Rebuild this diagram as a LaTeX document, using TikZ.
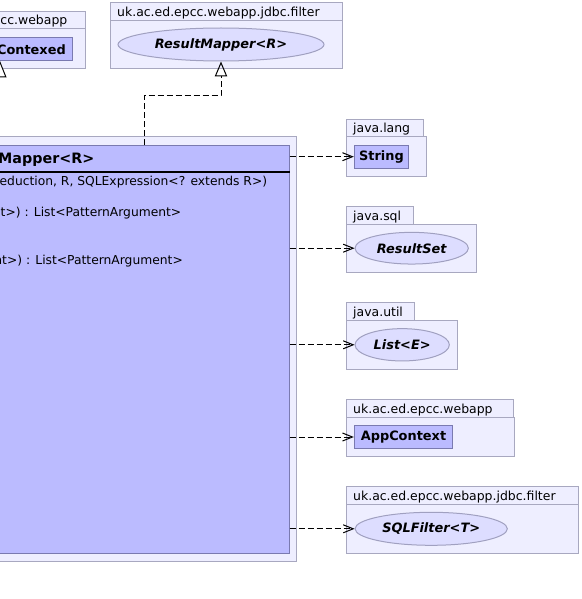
\documentclass[tikz,border=0pt]{standalone}
\usepackage{fontspec}
\setmainfont{DejaVu Sans}[ItalicFont={DejaVu Sans Oblique},BoldItalicFont={DejaVu Sans Bold Oblique}]
\usetikzlibrary{shapes.geometric,arrows.meta}
\definecolor{pkgfill}{HTML}{EEEEFF}
\definecolor{pkgline}{HTML}{A8A8C0}
\definecolor{clsfill}{HTML}{BBBBFF}
\definecolor{clsline}{HTML}{7A7AB0}
\definecolor{ifill}{HTML}{DDDDFF}
\definecolor{iline}{HTML}{A0A0C0}
\begin{document}
\begin{tikzpicture}[x=1pt,y=-1pt,
  pkg/.style={draw=pkgline,fill=pkgfill,line width=1pt},
  pkgtext/.style={inner sep=0,anchor=base west,font=\fontsize{12.45}{14}\selectfont},
  cls/.style={draw=clsline,fill=clsfill,line width=1pt,inner sep=0,font=\fontsize{12.9}{15}\selectfont\bfseries},
  iface/.style={ellipse,draw=iline,fill=ifill,line width=1pt,inner sep=0,font=\fontsize{12.9}{15}\selectfont\bfseries\itshape},
  member/.style={inner sep=0,anchor=base east,font=\fontsize{12.3}{14}\selectfont},
  dep/.style={dash pattern=on 6pt off 3pt,line width=1pt,-{Straight Barb[length=10pt,width=8pt]}},
  real/.style={dash pattern=on 6pt off 3pt,line width=1pt,-{Triangle[open,length=15pt,width=12.4pt]}},
]
\clip (0,0) rectangle (581,599);
\fill[white] (0,0) rectangle (581,599);

% package cc.webapp
\path[pkg] (-10,11.7) rectangle (85.7,28.5);
\path[pkg] (-10,28.5) rectangle (85.7,69);
\node[pkgtext] (p1l) at (0.3,24.5) {cc.webapp};
\node[cls, minimum width=82.7pt, minimum height=23.3pt] (contexed) at (31.35,49.35) {};
\node[inner sep=0, anchor=base east, font=\fontsize{12.9}{15}\selectfont\bfseries] (contexedtext) at (66,54.2) {Contexed};
\draw[line width=1pt, fill=white] (contexed.south -| -0.3,0) -- ++(6.2,15.5) -- ++(-12.4,0) -- cycle;

% package uk.ac.ed.epcc.webapp.jdbc.filter (top)
\path[pkg] (110,2.7) rectangle (342.7,20.7);
\path[pkg] (110,20.7) rectangle (342.7,69);
\node[pkgtext] (p2l) at (117,16.7) {uk.ac.ed.epcc.webapp.jdbc.filter};
\node[iface, minimum width=206pt, minimum height=33pt] (rm) at (221,44.5) {ResultMapper<R>};

% main package and class
\path[pkg] (-10,136.7) rectangle (296.7,561);
\node[cls, minimum width=298.7pt, minimum height=408.3pt, anchor=north west] (main) at (-10,145) {};
\draw[line width=2pt] (main.west |- 0,171.7) -- (main.east |- 0,171.7);
\node[inner sep=0, anchor=base east, font=\fontsize{14.3}{16}\selectfont\bfseries] (title) at (94.5,163.5) {Mapper<R>};
\node[member] (m1) at (267.3,185.7) {eduction, R, SQLExpression<? extends R>)};
\node[member] (m2) at (181.5,216.7) {t>) : List<PatternArgument>};
\node[member] (m3) at (183,264.3) {nt>) : List<PatternArgument>};

% java.lang
\path[pkg] (346.3,119.3) rectangle (423.7,136);
\path[pkg] (346.3,136) rectangle (426.7,176);
\node[pkgtext] (p3l) at (353,132.3) {java.lang};
\node[cls, minimum width=54.4pt, minimum height=23.3pt] (string) at (381.5,156.7) {String};

% java.sql
\path[pkg] (346.3,206.7) rectangle (413.3,224.3);
\path[pkg] (346.3,224.3) rectangle (476.3,272.3);
\node[pkgtext] (p4l) at (353,220.3) {java.sql};
\node[iface, minimum width=113.3pt, minimum height=31.7pt] (rs) at (411.7,248.2) {ResultSet};

% java.util
\path[pkg] (346.3,302.7) rectangle (414.3,320.7);
\path[pkg] (346.3,320.7) rectangle (457.7,369.3);
\node[pkgtext] (p5l) at (353,316.7) {java.util};
\node[iface, minimum width=94.3pt, minimum height=32.3pt] (list) at (402.2,344.8) {List<E>};

% uk.ac.ed.epcc.webapp
\path[pkg] (346.3,399.3) rectangle (513.3,417.3);
\path[pkg] (346.3,417.3) rectangle (514.3,456.7);
\node[pkgtext] (p6l) at (353,413.3) {uk.ac.ed.epcc.webapp};
\node[cls, minimum width=98.4pt, minimum height=23.4pt] (app) at (403.5,437) {AppContext};

% uk.ac.ed.epcc.webapp.jdbc.filter (bottom)
\path[pkg] (346.3,486) rectangle (578.3,504);
\path[pkg] (346.3,504) rectangle (578.3,553);
\node[pkgtext] (p7l) at (353,500) {uk.ac.ed.epcc.webapp.jdbc.filter};
\node[iface, minimum width=152.3pt, minimum height=33pt] (sqlf) at (431.2,528.8) {SQLFilter<T>};

% connectors
\draw[real] (main.north -| 144,0) -- (144,95.5) -| (rm.south);
\draw[dep] (main.east |- string) -- (string.west);
\draw[dep] (main.east |- rs) -- (rs.west);
\draw[dep] (main.east |- list) -- (list.west);
\draw[dep] (main.east |- app) -- (app.west);
\draw[dep] (main.east |- sqlf) -- (sqlf.west);
\end{tikzpicture}
\end{document}
